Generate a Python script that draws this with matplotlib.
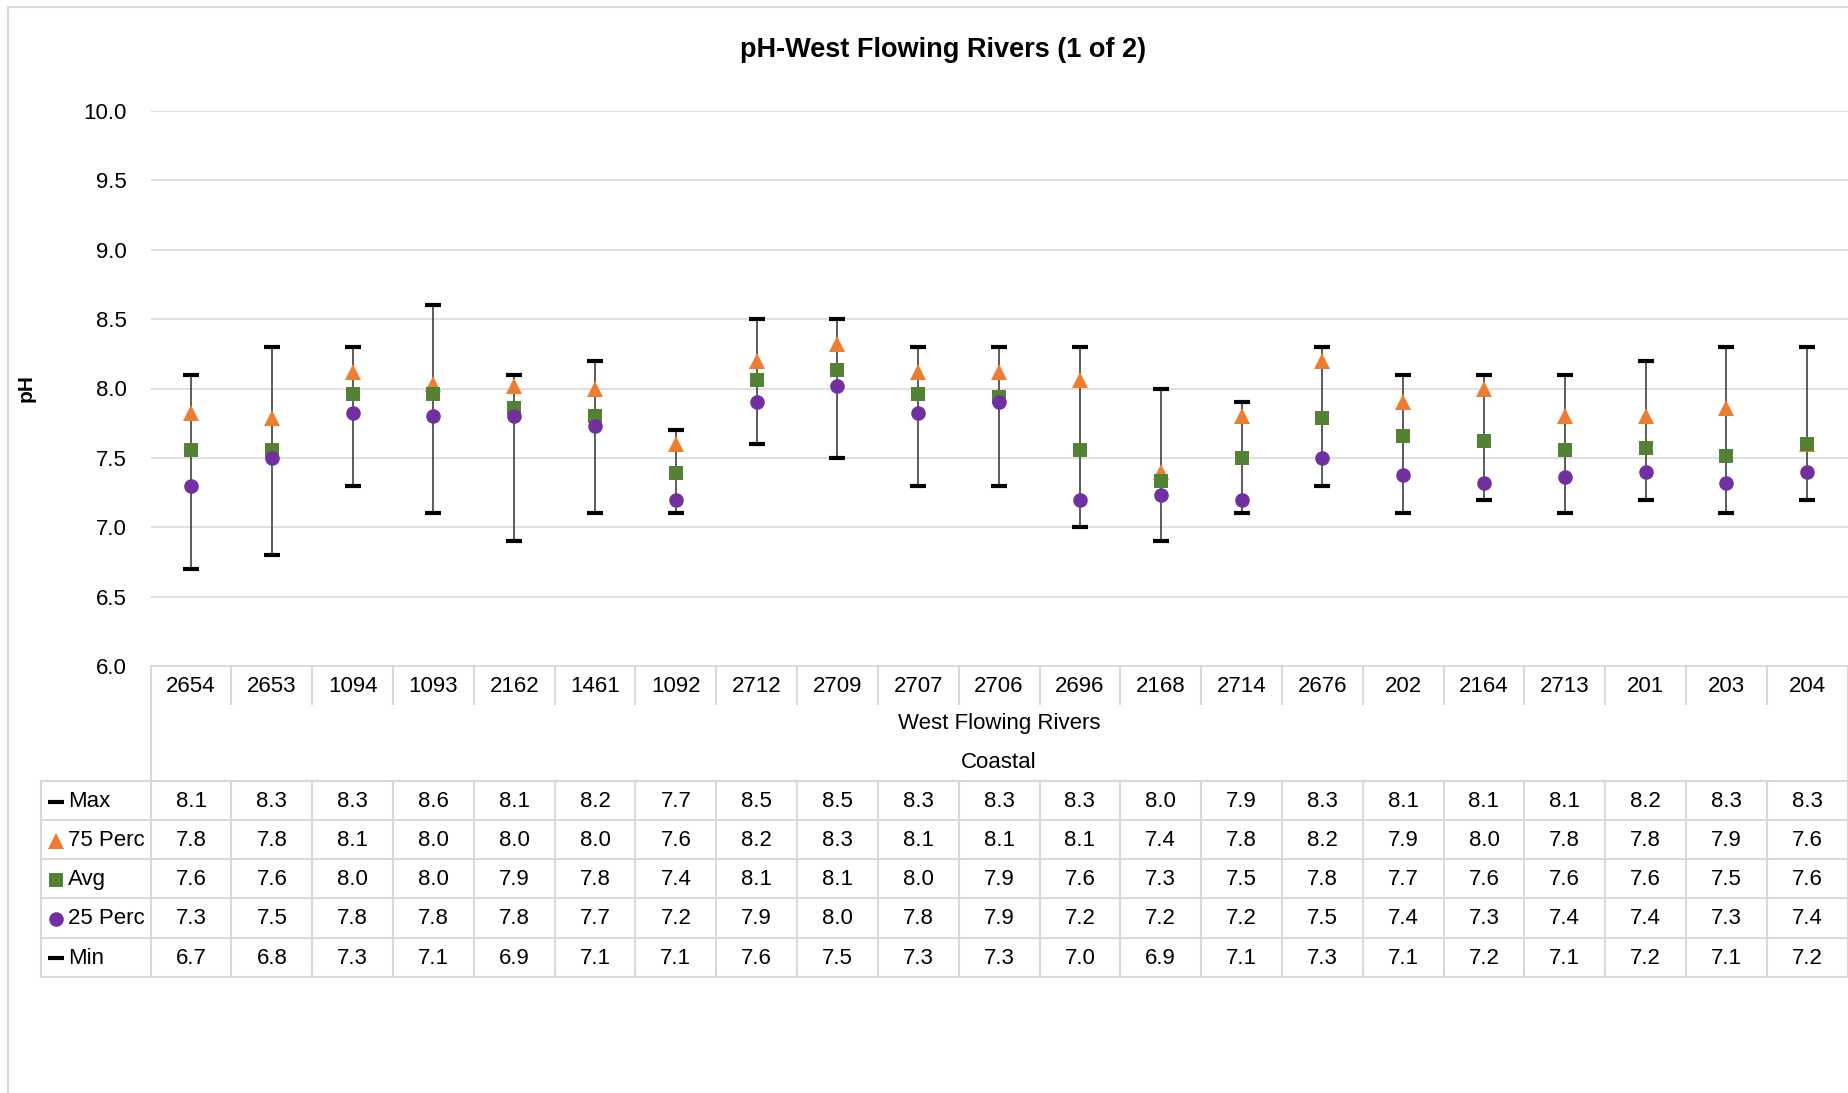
import numpy as np
import matplotlib

matplotlib.use("Agg")
import matplotlib.pyplot as plt
from matplotlib.transforms import blended_transform_factory

plt.rcParams['font.family'] = ['Liberation Sans', 'DejaVu Sans']

# 1. data (table shows them rounded to 0.1)
sites = ["2654", "2653", "1094", "1093", "2162", "1461", "1092", "2712", "2709", "2707", "2706",
         "2696", "2168", "2714", "2676", "202", "2164", "2713", "201", "203", "204"]

max_vals = [8.1, 8.3, 8.3, 8.6, 8.1, 8.2, 7.7, 8.5, 8.5, 8.3, 8.3,
            8.3, 8.0, 7.9, 8.3, 8.1, 8.1, 8.1, 8.2, 8.3, 8.3]
p75_vals = [7.82, 7.79, 8.12, 8.03, 8.02, 8.0, 7.6, 8.2, 8.32, 8.12, 8.12,
            8.06, 7.4, 7.8, 8.2, 7.9, 8.0, 7.8, 7.8, 7.86, 7.6]
avg_vals = [7.56, 7.56, 7.96, 7.96, 7.86, 7.8, 7.39, 8.06, 8.13, 7.96, 7.94,
            7.56, 7.33, 7.5, 7.79, 7.66, 7.62, 7.56, 7.57, 7.51, 7.6]
p25_vals = [7.3, 7.5, 7.82, 7.8, 7.8, 7.73, 7.2, 7.9, 8.02, 7.82, 7.9,
            7.2, 7.23, 7.2, 7.5, 7.38, 7.32, 7.36, 7.4, 7.32, 7.4]
min_vals = [6.7, 6.8, 7.3, 7.1, 6.9, 7.1, 7.1, 7.6, 7.5, 7.3, 7.3,
            7.0, 6.9, 7.1, 7.3, 7.1, 7.2, 7.1, 7.2, 7.1, 7.2]

group_label = "West Flowing Rivers"
region_label = "Coastal"
title = "pH-West Flowing Rivers (1 of 2)"

# series: name, values, marker, color, size
series = [
    ("Max", max_vals, "_", "black", 11),
    ("75 Perc", p75_vals, "^", "#ED7D31", 11),
    ("Avg", avg_vals, "s", "#548235", 10.5),
    ("25 Perc", p25_vals, "o", "#7030A0", 10.5),
    ("Min", min_vals, "_", "black", 11),
]

# 2. figure layout (pixels)
W, H = 1849, 1093
grid_col = "#d9d9d9"
fs = 16

fig = plt.figure(figsize=(W / 100, H / 100), dpi=100)
plot_l, plot_r, plot_t, plot_b = 150.6, 1847.6, 111, 666
ax = fig.add_axes([plot_l / W, 1 - plot_b / H, (plot_r - plot_l) / W, (plot_b - plot_t) / H])

x = np.arange(len(sites))

# high-low lines
ax.vlines(x, min_vals, max_vals, color="#404040", lw=1.2, zorder=2)

for name, vals, mk, col, ms in series:
    if mk == "_":
        ax.plot(x, vals, ls="none", marker=mk, ms=ms, mew=3, color=col, zorder=3)
    else:
        ax.plot(x, vals, ls="none", marker=mk, ms=ms, mew=0, color=col, zorder=3)

ax.set_xlim(-0.5, len(sites) - 0.5)
ax.set_ylim(6, 10)
ax.set_yticks(np.arange(6, 10.01, 0.5))
ax.set_yticklabels([f"{v:.1f}" for v in np.arange(6, 10.01, 0.5)])
ax.set_xticks([])
ax.tick_params(axis="y", length=0, pad=17, labelsize=fs)
ax.grid(axis="y", color=grid_col, lw=1.2)
ax.set_axisbelow(True)
for sp in ax.spines.values():
    sp.set_visible(False)

# overlay in pixel coords for title, table and border
ov = fig.add_axes([0, 0, 1, 1], zorder=5)
ov.set_xlim(0, W)
ov.set_ylim(H, 0)
ov.axis("off")
tr = blended_transform_factory(ax.transData, ov.transData)

# chart border
ov.plot([8, 8], [7, H], color=grid_col, lw=1.5, clip_on=False)
ov.plot([8, W], [7, 7], color=grid_col, lw=1.5, clip_on=False)

ov.text(943, 50, title, ha="center", va="center", fontsize=19.5, fontweight="bold")
ov.text(26, 388, "pH", ha="center", va="center", rotation=90, fontsize=15, fontweight="bold")

# table: header with site names
n = len(sites)
edges = np.arange(n + 1) - 0.5
ov.plot([-0.5, n - 0.5], [plot_b, plot_b], color=grid_col, lw=1.2, transform=tr, clip_on=False)
for e in edges[1:-1]:
    ov.plot([e, e], [plot_b, 704], color=grid_col, lw=1.5, transform=tr, clip_on=False)
ov.plot([edges[0], edges[0]], [plot_b, 781], color=grid_col, lw=1.5, transform=tr, clip_on=False)
ov.plot([edges[-1], edges[-1]], [plot_b, 977], color=grid_col, lw=1.5, transform=tr, clip_on=False)
for i, s in enumerate(sites):
    ov.text(i, 686, s, ha="center", va="center", fontsize=fs, transform=tr)

mid = (n - 1) / 2
ov.text(mid, 724, group_label, ha="center", va="center", fontsize=fs, transform=tr)
ov.text(mid, 763, region_label, ha="center", va="center", fontsize=fs, transform=tr)

# data rows
row_lines = [781, 820, 859, 898, 937.5, 977]
tab_left = 40.7
for ry in row_lines:
    ov.plot([tab_left, W - 1.5], [ry, ry], color=grid_col, lw=1.5, clip_on=False)
ov.plot([tab_left, tab_left], [781, 977], color=grid_col, lw=1.5)
for e in edges:
    ov.plot([e, e], [781, 977], color=grid_col, lw=1.5, transform=tr, clip_on=False)

for r, (name, vals, mk, col, ms) in enumerate(series):
    yc = (row_lines[r] + row_lines[r + 1]) / 2 + 1
    if mk == "_":
        ov.plot(56, yc, marker=mk, ms=11, mew=3, color=col)
    else:
        ov.plot(56, yc, marker=mk, ms=ms, mew=0, color=col)
    ov.text(68, yc, name, ha="left", va="center", fontsize=fs)
    for i, v in enumerate(vals):
        ov.text(i, yc, f"{v:.1f}", ha="center", va="center", fontsize=fs, transform=tr)

fig.savefig("out.png", dpi=100)
